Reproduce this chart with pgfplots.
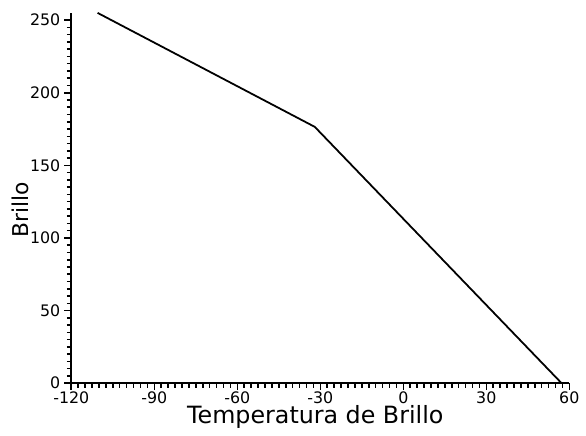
\documentclass[border=0pt]{standalone}
\usepackage{fontspec}
\setmainfont{DejaVu Sans}
\usepackage{pgfplots}
\pgfplotsset{compat=1.18}
\begin{document}
\begin{tikzpicture}
\begin{axis}[
  scale only axis,
  width=251.5pt, height=187pt,
  xmin=-120, xmax=60, ymin=0, ymax=255,
  axis x line=bottom, axis y line=left,
  axis line style={-, line width=1pt},
  xtick={-120,-90,-60,-30,0,30,60},
  ytick={0,50,100,150,200,250},
  minor x tick num=11, minor y tick num=9,
  tick align=outside,
  major tick length=3.5pt, minor tick length=2.2pt,
  every tick/.style={black, line width=0.8pt},
  tick label style={font=\fontsize{8}{9.5}\selectfont},
  /pgf/number format/assume math mode=true,
  xticklabel style={yshift=2.5pt},
  yticklabel style={xshift=1.5pt},
  xlabel={Temperatura de Brillo},
  ylabel={Brillo},
  xlabel style={font=\fontsize{12}{14}\selectfont, at={(axis description cs:0.49,0)}, anchor=base, yshift=-20.5pt},
  ylabel style={font=\fontsize{11}{13}\selectfont, at={(axis description cs:-0.102,0.468)}, anchor=center},
  clip=false,
]
\addplot[black, line width=0.9pt] coordinates {(-110.5,255) (-32,176.5) (57.2,0)};
\end{axis}
\path ([xshift=-36pt, yshift=6.5pt]current axis.north west);
\path ([xshift=5.5pt, yshift=-23.5pt]current axis.south east);
\end{tikzpicture}
\end{document}
